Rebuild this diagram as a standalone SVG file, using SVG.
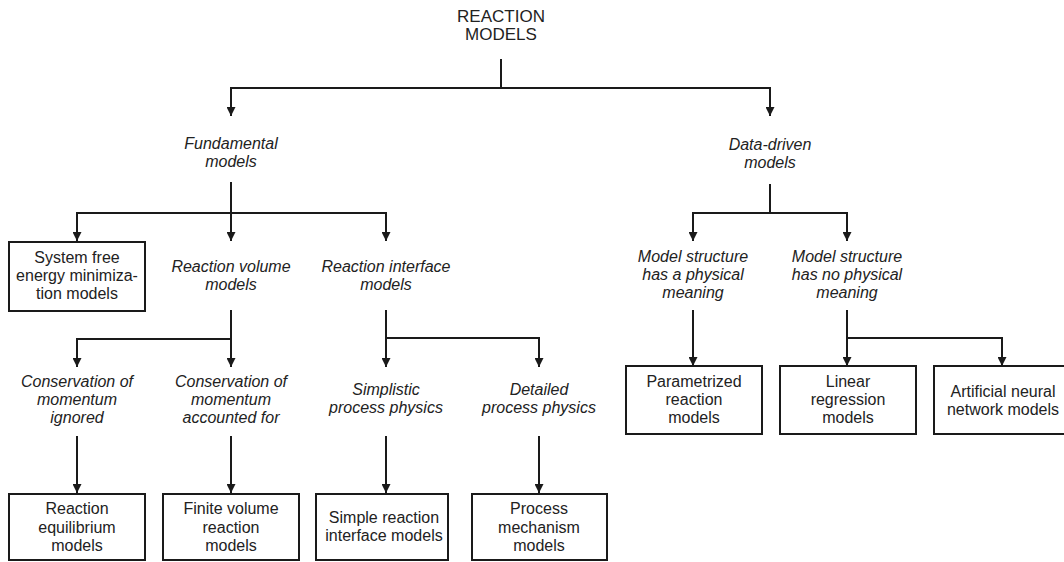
<svg xmlns="http://www.w3.org/2000/svg" width="1064" height="562" viewBox="0 0 1064 562">
<defs>
<marker id="arr" markerUnits="userSpaceOnUse" markerWidth="9" markerHeight="9" refX="9" refY="4.5" orient="auto">
<path d="M0,0 L9,4.5 L0,9 Z" fill="#1a1a1a"/>
</marker>
<style>
text{font-family:"Liberation Sans",Arial,sans-serif;font-size:16px;fill:#222;text-anchor:middle}
.it{font-style:italic}
.root{font-size:17px}
.box{fill:#fff;stroke:#1a1a1a;stroke-width:2}
.c{fill:none;stroke:#1a1a1a;stroke-width:2}
.a{marker-end:url(#arr)}
</style>
</defs>
<rect width="1064" height="562" fill="#fff"/>
<g id="connectors">
<path class="c" d="M501,59 V88"/>
<path class="c a" d="M501,88 H231 V116"/>
<path class="c a" d="M501,88 H770 V116"/>
<path class="c a" d="M231,182 V241"/>
<path class="c a" d="M231,213 H77 V241"/>
<path class="c a" d="M231,213 H386 V241"/>
<path class="c" d="M770,184 V213"/>
<path class="c a" d="M770,213 H693 V241"/>
<path class="c a" d="M770,213 H847 V241"/>
<path class="c a" d="M231,310 V367"/>
<path class="c a" d="M231,339 H77 V367"/>
<path class="c a" d="M386,310 V367"/>
<path class="c a" d="M386,338 H539 V367"/>
<path class="c a" d="M693,310 V366"/>
<path class="c a" d="M847,310 V366"/>
<path class="c a" d="M847,338 H1002 V366"/>
<path class="c a" d="M77,436 V493"/>
<path class="c a" d="M231,436 V493"/>
<path class="c a" d="M386,436 V493"/>
<path class="c a" d="M539,436 V493"/>
</g>
<g id="root"><text class="root" x="501" y="22">REACTION</text><text class="root" x="501" y="40">MODELS</text></g>
<g id="fundamental"><text class="it" x="231" y="149">Fundamental</text><text class="it" x="231" y="167">models</text></g>
<g id="datadriven"><text class="it" x="770" y="150">Data-driven</text><text class="it" x="770" y="168">models</text></g>
<g id="sysfree"><rect class="box" x="9" y="242" width="136" height="69"/><text x="77" y="263">System free</text><text x="77" y="281">energy minimiza-</text><text x="77" y="299">tion models</text></g>
<g id="volume"><text class="it" x="231" y="272">Reaction volume</text><text class="it" x="231" y="290">models</text></g>
<g id="interface"><text class="it" x="386" y="272">Reaction interface</text><text class="it" x="386" y="290">models</text></g>
<g id="physical"><text class="it" x="693" y="262">Model structure</text><text class="it" x="693" y="280">has a physical</text><text class="it" x="693" y="298">meaning</text></g>
<g id="nophysical"><text class="it" x="847" y="262">Model structure</text><text class="it" x="847" y="280">has no physical</text><text class="it" x="847" y="298">meaning</text></g>
<g id="ignored"><text class="it" x="77" y="387">Conservation of</text><text class="it" x="77" y="405">momentum</text><text class="it" x="77" y="423">ignored</text></g>
<g id="accounted"><text class="it" x="231" y="387">Conservation of</text><text class="it" x="231" y="405">momentum</text><text class="it" x="231" y="423">accounted for</text></g>
<g id="simplistic"><text class="it" x="386" y="395">Simplistic</text><text class="it" x="386" y="413">process physics</text></g>
<g id="detailed"><text class="it" x="539" y="395">Detailed</text><text class="it" x="539" y="413">process physics</text></g>
<g id="parametrized"><rect class="box" x="626" y="366" width="136" height="68"/><text x="694" y="387">Parametrized</text><text x="694" y="405">reaction</text><text x="694" y="423">models</text></g>
<g id="linear"><rect class="box" x="780" y="366" width="136" height="68"/><text x="848" y="387">Linear</text><text x="848" y="405">regression</text><text x="848" y="423">models</text></g>
<g id="ann"><rect class="box" x="934" y="366" width="136" height="68"/><text x="1003" y="397">Artificial neural</text><text x="1003" y="415">network models</text></g>
<g id="equilibrium"><rect class="box" x="9" y="494" width="136" height="66"/><text x="77" y="514">Reaction</text><text x="77" y="533">equilibrium</text><text x="77" y="551">models</text></g>
<g id="finitevolume"><rect class="box" x="163" y="494" width="136" height="66"/><text x="231" y="514">Finite volume</text><text x="231" y="533">reaction</text><text x="231" y="551">models</text></g>
<g id="simpleinterface"><rect class="box" x="316" y="494" width="132" height="66"/><text x="384" y="523">Simple reaction</text><text x="384" y="541">interface models</text></g>
<g id="mechanism"><rect class="box" x="472" y="494" width="135" height="66"/><text x="539" y="514">Process</text><text x="539" y="533">mechanism</text><text x="539" y="551">models</text></g>
</svg>
